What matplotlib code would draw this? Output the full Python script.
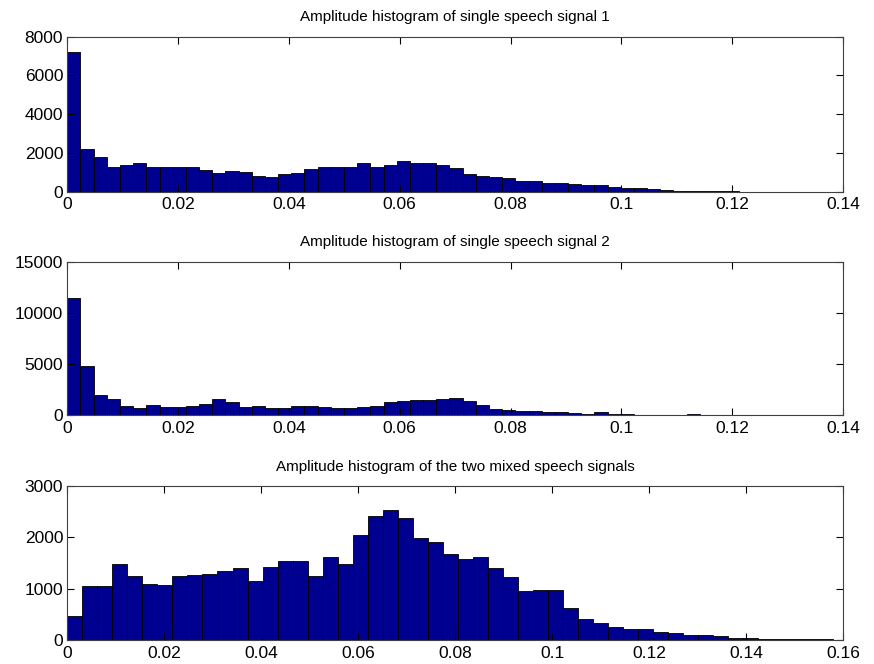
import numpy as np
import matplotlib
matplotlib.use("Agg")
import matplotlib.pyplot as plt
from matplotlib.ticker import FuncFormatter

plt.rcParams['font.family'] = ['Liberation Sans', 'DejaVu Sans']
plt.rcParams['font.size'] = 10

# bin counts (51 bins each)
counts_s1 = [7200, 2185, 1806, 1290, 1359, 1462, 1273, 1273, 1273, 1273,
             1135, 946, 1084, 998, 826, 740, 894, 963, 1187, 1290,
             1290, 1290, 1462, 1290, 1359, 1600, 1462, 1462, 1376, 1204,
             912, 808, 740, 705, 533, 533, 464, 430, 410, 361,
             327, 258, 206, 190, 138, 70, 55, 45, 20, 15, 15]
counts_s2 = [11400, 4790, 1990, 1530, 913, 652, 1010, 782, 782, 913,
             1043, 1530, 1240, 782, 913, 652, 652, 880, 880, 750,
             717, 717, 782, 913, 1271, 1400, 1467, 1467, 1530, 1630,
             1400, 978, 587, 490, 391, 391, 326, 261, 163, 130,
             260, 100, 50, 40, 40, 40, 40, 120, 30, 30, 30]
counts_mix = [474, 1045, 1051, 1486, 1246, 1097, 1071, 1240, 1266, 1292,
              1350, 1395, 1149, 1415, 1538, 1538, 1240, 1616, 1473, 2038,
              2408, 2538, 2369, 1992, 1915, 1668, 1571, 1616, 1395, 1220,
              960, 966, 966, 617, 402, 325, 247, 214, 214, 162,
              130, 97, 91, 71, 45, 45, 26, 20, 13, 13, 13]

# largest amplitude of each signal (upper end of the bins)
amp_max = [0.1213, 0.1213, 0.158]

titles = ["Amplitude histogram of single speech signal 1",
          "Amplitude histogram of single speech signal 2",
          "Amplitude histogram of the two mixed speech signals"]
xmax = [0.14, 0.14, 0.16]
yticks = [[0, 2000, 4000, 6000, 8000],
          [0, 5000, 10000, 15000],
          [0, 1000, 2000, 3000]]

fig = plt.figure(figsize=(8.74, 6.64), dpi=100)
rects = [[0.077, 0.7113, 0.8875, 0.2334],
         [0.077, 0.375, 0.8875, 0.2309],
         [0.077, 0.0361, 0.8875, 0.2319]]

def fmt(v, pos):
    return "%g" % round(v, 4)

for i, counts in enumerate([counts_s1, counts_s2, counts_mix]):
    ax = fig.add_axes(rects[i])
    edges = np.linspace(0, amp_max[i], len(counts) + 1)
    ax.bar(edges[:-1], counts, width=np.diff(edges), align='edge',
           color='#000090', edgecolor='black', linewidth=0.6)
    ax.set_xlim(0, xmax[i])
    ax.set_ylim(0, yticks[i][-1])
    ax.set_xticks(np.arange(0, xmax[i] + 1e-9, 0.02))
    ax.set_yticks(yticks[i])
    ax.xaxis.set_major_formatter(FuncFormatter(fmt))
    ax.tick_params(direction='in', top=True, right=True, length=5,
                   width=0.8, labelsize=12.5)
    ax.tick_params(axis='x', pad=4)
    ax.tick_params(axis='y', pad=3)
    for s in ax.spines.values():
        s.set_linewidth(0.8)
        s.set_color('#404040')
    ax.set_title(titles[i], fontsize=11, pad=11)

fig.savefig("out.png", dpi=100)
